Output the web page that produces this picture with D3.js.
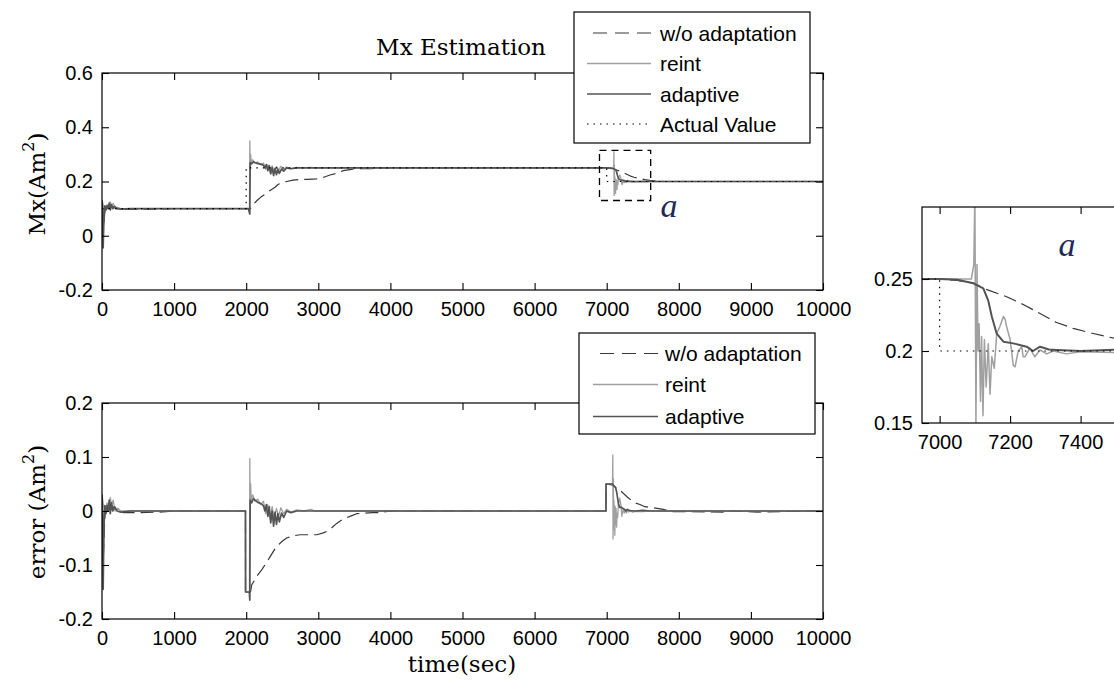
<!DOCTYPE html>
<html><head><meta charset="utf-8">
<script src="https://cdn.jsdelivr.net/npm/d3@7"></script>
<style>body{margin:0;background:#fff}svg{display:block}</style>
</head><body>
<svg id="c" width="1114" height="682"></svg>
<script>
// ---------------- DATA ----------------
const xTicks = [0,1000,2000,3000,4000,5000,6000,7000,8000,9000,10000];
const yTicksTop = [-0.2,0,0.2,0.4,0.6];
const yTicksBottom = [-0.2,-0.1,0,0.1,0.2];
const insetXTicks = [7000,7200,7400];
const insetYTicks = [0.15,0.2,0.25];
const seriesNames = ["w/o adaptation","reint","adaptive","Actual Value"];
const titleText = "Mx Estimation";

// Mx estimates [time, value]
const woEst = [[0,0.13],[10,0.11],[20,0.02],[30,0.06],[45,0.1],[70,0.115],[100,0.105],[140,0.11],[200,0.1],[300,0.097],[500,0.097],[800,0.098],[1000,0.1],[2000,0.1],[2060,0.1],[2076,0.11],[2150,0.13],[2215,0.145],[2284,0.157],[2330,0.167],[2400,0.179],[2445,0.19],[2500,0.195],[2561,0.2],[2650,0.205],[2746,0.208],[2850,0.208],[2977,0.21],[3060,0.214],[3162,0.224],[3255,0.23],[3345,0.24],[3440,0.244],[3532,0.248],[3624,0.247],[3750,0.247],[3850,0.25],[7000,0.25],[7050,0.249],[7100,0.247],[7124,0.2435],[7190,0.2377],[7240,0.232],[7285,0.226],[7330,0.22],[7379,0.2157],[7430,0.2125],[7474,0.21],[7530,0.207],[7600,0.204],[7700,0.202],[7800,0.2],[10000,0.2]];
const reintEst = [[0,0.13],[8,0.11],[18,0.05],[28,0.09],[45,0.1],[70,0.115],[95,0.1],[115,0.125],[135,0.11],[155,0.12],[180,0.1],[220,0.105],[260,0.1],[2000,0.1],[2045,0.1],[2050,0.35],[2056,0.24],[2062,0.3],[2070,0.27],[2090,0.28],[2120,0.268],[2160,0.272],[2200,0.262],[2240,0.268],[2270,0.245],[2300,0.262],[2330,0.236],[2360,0.258],[2390,0.235],[2420,0.255],[2450,0.24],[2480,0.256],[2520,0.245],[2560,0.253],[2620,0.248],[2700,0.252],[2800,0.25],[2900,0.252],[2950,0.25],[7000,0.25],[7050,0.25],[7090,0.25],[7097,0.26],[7100,0.31],[7103,0.148],[7106,0.26],[7109,0.2],[7112,0.219],[7116,0.165],[7119,0.21],[7123,0.155],[7127,0.208],[7132,0.175],[7138,0.205],[7143,0.17],[7148,0.196],[7155,0.188],[7162,0.212],[7171,0.217],[7181,0.224],[7186,0.222],[7190,0.217],[7200,0.208],[7209,0.19],[7214,0.189],[7223,0.2],[7233,0.203],[7237,0.196],[7242,0.196],[7256,0.202],[7270,0.196],[7285,0.2007],[7304,0.198],[7322,0.2],[7360,0.198],[7400,0.1995],[7500,0.199],[7600,0.2],[10000,0.2]];
const adaptiveEst = [[0,0.13],[6,0.12],[12,0.0],[16,-0.045],[22,0.02],[30,0.08],[40,0.11],[55,0.095],[70,0.11],[85,0.1],[100,0.12],[115,0.095],[130,0.115],[150,0.1],[175,0.108],[210,0.1],[260,0.098],[400,0.1],[2000,0.1],[2030,0.1],[2045,0.085],[2050,0.08],[2055,0.27],[2075,0.265],[2100,0.273],[2122,0.27],[2160,0.266],[2200,0.264],[2238,0.26],[2260,0.25],[2280,0.262],[2300,0.24],[2320,0.258],[2340,0.228],[2360,0.25],[2380,0.222],[2400,0.248],[2420,0.225],[2440,0.245],[2460,0.23],[2490,0.246],[2520,0.238],[2560,0.25],[2620,0.247],[2700,0.25],[7000,0.25],[7050,0.2495],[7096,0.247],[7124,0.2435],[7138,0.235],[7148,0.224],[7162,0.212],[7181,0.2065],[7209,0.2053],[7230,0.204],[7247,0.203],[7265,0.2],[7285,0.203],[7310,0.201],[7332,0.2007],[7400,0.2],[7500,0.201],[7600,0.2],[10000,0.2]];
const actualVal = [[0,0.1],[2000,0.1],[2000,0.25],[7000,0.25],[7000,0.2],[10000,0.2]];

// estimation errors [time, error]
const woErr = [[0,0.03],[10,0.01],[20,-0.08],[30,-0.04],[45,0.0],[70,0.015],[100,0.005],[140,0.01],[200,0.0],[300,-0.003],[500,-0.003],[800,-0.002],[1000,0],[1990,0],[1991,-0.15],[2060,-0.15],[2076,-0.137],[2150,-0.12],[2215,-0.109],[2284,-0.095],[2330,-0.085],[2400,-0.07],[2445,-0.063],[2500,-0.056],[2561,-0.05],[2650,-0.046],[2746,-0.044],[2850,-0.044],[2977,-0.044],[3060,-0.041],[3116,-0.038],[3180,-0.032],[3255,-0.023],[3345,-0.015],[3440,-0.01],[3532,-0.005],[3624,-0.004],[3750,-0.003],[3850,-0.003],[4000,0],[6990,0],[6991,0.05],[7050,0.049],[7100,0.047],[7124,0.0435],[7190,0.0377],[7285,0.026],[7379,0.0157],[7461,0.012],[7530,0.008],[7646,0.006],[7785,0.003],[7900,-0.001],[8650,-0.002],[8700,0],[9100,-0.002],[9400,-0.001],[10000,0]];
const reintErr = [[0,0.03],[8,0.01],[18,-0.05],[28,-0.01],[45,0],[70,0.015],[95,0],[115,0.025],[135,0.01],[155,0.02],[180,0],[220,0.005],[260,0],[1990,0],[1991,-0.15],[2045,-0.15],[2050,0.097],[2056,-0.01],[2062,0.05],[2070,0.02],[2090,0.03],[2120,0.018],[2160,0.022],[2200,0.012],[2240,0.018],[2270,-0.005],[2300,0.012],[2330,-0.014],[2360,0.008],[2390,-0.015],[2420,0.005],[2450,-0.01],[2480,0.006],[2520,-0.005],[2560,0.003],[2620,-0.002],[2700,0.002],[2800,0],[2900,0.003],[2950,0],[6990,0],[6991,0.05],[7080,0.05],[7085,0.104],[7088,-0.052],[7092,0.06],[7096,-0.01],[7100,0.02],[7104,-0.035],[7108,0.01],[7113,-0.045],[7118,0.008],[7124,-0.025],[7130,0.005],[7137,-0.03],[7145,-0.004],[7152,-0.012],[7162,0.012],[7171,0.017],[7181,0.024],[7190,0.017],[7200,0.008],[7209,-0.01],[7223,0],[7233,0.003],[7242,-0.004],[7256,0.002],[7270,-0.004],[7285,0.0007],[7304,-0.002],[7322,0],[7360,-0.002],[7400,-0.0005],[7500,-0.001],[7600,0],[10000,0]];
const adaptiveErr = [[0,0.03],[6,0.02],[12,-0.1],[16,-0.145],[22,-0.08],[30,-0.02],[40,0.01],[55,-0.005],[70,0.01],[85,0],[100,0.02],[115,-0.005],[130,0.015],[150,0],[175,0.008],[210,0],[260,-0.002],[400,0],[1990,0],[1991,-0.15],[2043,-0.15],[2050,-0.165],[2055,0.02],[2075,0.015],[2100,0.023],[2122,0.02],[2160,0.016],[2200,0.014],[2238,0.01],[2260,0],[2280,0.012],[2300,-0.01],[2320,0.008],[2340,-0.022],[2360,0],[2380,-0.028],[2400,-0.002],[2420,-0.025],[2440,-0.005],[2460,-0.02],[2490,-0.004],[2520,-0.012],[2560,0],[2620,-0.003],[2700,0],[6990,0],[6991,0.05],[7080,0.05],[7096,0.047],[7124,0.0435],[7138,0.035],[7149,0.026],[7162,0.014],[7181,0.0065],[7203,0.007],[7230,0.004],[7247,0.003],[7265,0],[7285,0.003],[7310,0.001],[7332,0.0007],[7400,0],[7500,0.001],[7600,0],[10000,0]];

// zoom box region (data coords) and inset ranges
const zoomBoxX = [6900, 7610];
const zoomBoxY = [0.13, 0.315];
const insetXDomain = [6950, 7600];
const insetYDomain = [0.15, 0.30];

// ---------------- STYLES ----------------
const SANS = "'Liberation Sans', Arial, Helvetica, sans-serif";
const SERIF = "'DejaVu Serif', 'Liberation Serif', serif";
const styles = {
  wo:       {stroke:"#383838", width:1.2, dash:"13,6"},
  reint:    {stroke:"#a0a0a0", width:1.3, dash:null},
  adaptive: {stroke:"#545454", width:1.7, dash:null},
  actual:   {stroke:"#000000", width:1.2, dash:"1.5,5"}
};

const svg = d3.select("#c");
const defs = svg.append("defs");

function lineGen(xs, ys){ return d3.line().x(d=>xs(d[0])).y(d=>ys(d[1])); }

function drawSeries(g, xs, ys, data, st, id){
  const p = g.append("path").datum(data).attr("d", lineGen(xs,ys))
    .attr("fill","none").attr("stroke",st.stroke).attr("stroke-width",st.width)
    .attr("stroke-linejoin","round");
  if(st.dash) p.attr("stroke-dasharray", st.dash);
}

function clip(id, xs, ys){
  const [x0,x1]=xs.range(), [y0,y1]=ys.range();
  defs.append("clipPath").attr("id",id).append("rect")
    .attr("x",x0).attr("y",y1).attr("width",x1-x0).attr("height",y0-y1);
}

function styleAxis(ax){
  ax.select(".domain").remove();
  ax.attr("font-family",SANS).attr("font-size",20);
  ax.selectAll("text").attr("fill","#000");
  ax.selectAll("line").attr("stroke","#000").attr("stroke-width",1.1);
}

function frame(g, xs, ys, xt, yt, sides){
  const [x0,x1]=xs.range(), [y0,y1]=ys.range();
  const tl = 7;
  const fmt = d=>String(d);
  styleAxis(g.append("g").attr("transform",`translate(0,${y0})`)
    .call(d3.axisBottom(xs).tickValues(xt).tickSizeInner(-tl).tickSizeOuter(0).tickPadding(12).tickFormat(fmt)));
  styleAxis(g.append("g").attr("transform",`translate(${x0},0)`)
    .call(d3.axisLeft(ys).tickValues(yt).tickSizeInner(-tl).tickSizeOuter(0).tickPadding(9).tickFormat(fmt)));
  styleAxis(g.append("g").attr("transform",`translate(0,${y1})`)
    .call(d3.axisTop(xs).tickValues(xt).tickSizeInner(-tl).tickSizeOuter(0).tickFormat("")));
  if(sides.right) styleAxis(g.append("g").attr("transform",`translate(${x1},0)`)
    .call(d3.axisRight(ys).tickValues(yt).tickSizeInner(-tl).tickSizeOuter(0).tickFormat("")));
  g.append("rect").attr("x",x0).attr("y",y1).attr("width",x1-x0).attr("height",y0-y1)
    .attr("fill","none").attr("stroke","#000").attr("stroke-width",1.2);
}

function legend(g, box, rows, entries){
  g.append("rect").attr("x",box.x).attr("y",box.y).attr("width",box.w).attr("height",box.h)
    .attr("fill","#fff").attr("stroke","#000").attr("stroke-width",1.2);
  entries.forEach((e,i)=>{
    const y = rows.y[i];
    const st = styles[e.key];
    const ln = g.append("line").attr("x1", e.key==="wo"? rows.woX1 : rows.lx1).attr("x2",rows.lx2)
      .attr("y1",y).attr("y2",y).attr("stroke",st.stroke).attr("stroke-width",st.width);
    if(e.key==="wo") ln.attr("stroke-dasharray","14,8");
    else if(st.dash) ln.attr("stroke-dasharray",st.dash);
    g.append("text").attr("x",rows.tx).attr("y",y).attr("dy","0.36em")
      .attr("font-family",SANS).attr("font-size",21).attr("fill","#000").text(e.name);
  });
}

// ---------------- TOP PANEL ----------------
const xTop = d3.scaleLinear().domain([0,10000]).range([102,823]);
const yTop = d3.scaleLinear().domain([-0.2,0.6]).range([290,73]);
clip("clipTop", xTop, yTop);
const gTop = svg.append("g");
const gTopLines = gTop.append("g").attr("clip-path","url(#clipTop)");
drawSeries(gTopLines, xTop, yTop, woEst, styles.wo);
drawSeries(gTopLines, xTop, yTop, reintEst, styles.reint);
drawSeries(gTopLines, xTop, yTop, adaptiveEst, styles.adaptive);
drawSeries(gTopLines, xTop, yTop, actualVal, styles.actual);
frame(gTop, xTop, yTop, xTicks, yTicksTop, {right:true});

// zoom box
gTop.append("rect").attr("x",xTop(zoomBoxX[0])).attr("y",yTop(zoomBoxY[1]))
  .attr("width",xTop(zoomBoxX[1])-xTop(zoomBoxX[0])).attr("height",yTop(zoomBoxY[0])-yTop(zoomBoxY[1]))
  .attr("fill","none").attr("stroke","#000").attr("stroke-width",1.3).attr("stroke-dasharray","7,5");
gTop.append("text").attr("x",669).attr("y",217).attr("text-anchor","middle")
  .attr("font-family","'Liberation Serif', serif").attr("font-style","italic").attr("font-size",34)
  .attr("fill","#1c2a5a").text("a");

// title
svg.append("text").attr("x",461).attr("y",55).attr("text-anchor","middle")
  .attr("font-family",SERIF).attr("font-size",23).attr("fill","#000").text(titleText);

// y label top
const yl1 = svg.append("text").attr("transform","translate(45,184) rotate(-90)").attr("text-anchor","middle")
  .attr("font-family",SERIF).attr("font-size",23).attr("fill","#000");
yl1.append("tspan").text("Mx(Am");
yl1.append("tspan").attr("font-size",16).attr("dy",-11).text("2");
yl1.append("tspan").attr("dy",11).text(")");

legend(svg.append("g"), {x:574,y:12,w:236,h:131},
  {y:[33,63.5,94,124], lx1:587, lx2:651, woX1:593, tx:660},
  [{key:"wo",name:seriesNames[0]},{key:"reint",name:seriesNames[1]},{key:"adaptive",name:seriesNames[2]},{key:"actual",name:seriesNames[3]}]);

// ---------------- BOTTOM PANEL ----------------
const xBot = d3.scaleLinear().domain([0,10000]).range([102,823]);
const yBot = d3.scaleLinear().domain([-0.2,0.2]).range([619,403]);
clip("clipBot", xBot, yBot);
const gBot = svg.append("g");
const gBotLines = gBot.append("g").attr("clip-path","url(#clipBot)");
drawSeries(gBotLines, xBot, yBot, woErr, styles.wo);
drawSeries(gBotLines, xBot, yBot, reintErr, styles.reint);
drawSeries(gBotLines, xBot, yBot, adaptiveErr, styles.adaptive);
frame(gBot, xBot, yBot, xTicks, yTicksBottom, {right:true});

const yl2 = svg.append("text").attr("transform","translate(45,512) rotate(-90)").attr("text-anchor","middle")
  .attr("font-family",SERIF).attr("font-size",23).attr("fill","#000");
yl2.append("tspan").text("error (Am");
yl2.append("tspan").attr("font-size",16).attr("dy",-11).text("2");
yl2.append("tspan").attr("dy",11).text(")");

svg.append("text").attr("x",462).attr("y",672).attr("text-anchor","middle")
  .attr("font-family",SERIF).attr("font-size",23).attr("fill","#000").text("time(sec)");

legend(svg.append("g"), {x:579,y:333,w:236,h:101},
  {y:[353.5,384.5,416.5], lx1:593, lx2:658, woX1:600, tx:665},
  [{key:"wo",name:seriesNames[0]},{key:"reint",name:seriesNames[1]},{key:"adaptive",name:seriesNames[2]}]);

// ---------------- INSET ----------------
const xIn = d3.scaleLinear().domain(insetXDomain).range([922,1151.1]);
const yIn = d3.scaleLinear().domain(insetYDomain).range([423,207]);
clip("clipIn", xIn, yIn);
const gIn = svg.append("g");
const gInLines = gIn.append("g").attr("clip-path","url(#clipIn)");
drawSeries(gInLines, xIn, yIn, woEst, styles.wo);
drawSeries(gInLines, xIn, yIn, reintEst, {stroke:"#a0a0a0", width:1.5});
drawSeries(gInLines, xIn, yIn, adaptiveEst, {stroke:"#545454", width:2.0});
drawSeries(gInLines, xIn, yIn, actualVal, styles.actual);
frame(gIn, xIn, yIn, insetXTicks, insetYTicks, {right:false});
gIn.append("text").attr("x",1067).attr("y",256).attr("text-anchor","middle")
  .attr("font-family","'Liberation Serif', serif").attr("font-style","italic").attr("font-size",34)
  .attr("fill","#1c2a5a").text("a");
</script>
</body></html>
